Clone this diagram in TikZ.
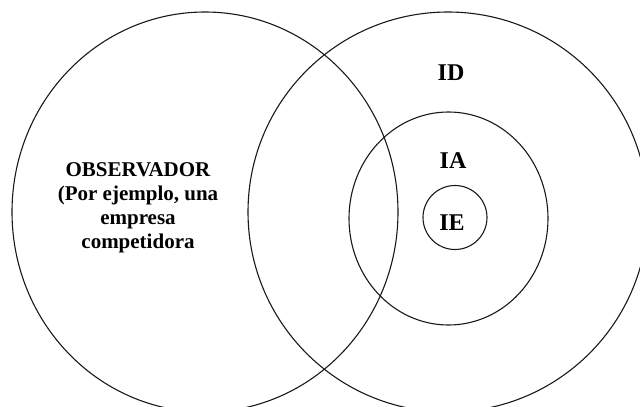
\documentclass[tikz,border=0pt]{standalone}
\usepackage{fontspec}
\setmainfont{Liberation Serif}
\tikzset{venn style/.style={draw=black!90, line width=1.1pt}}
\tikzset{set label/.style={font=\bfseries\fontsize{24}{28}\selectfont, inner sep=0pt}}
\tikzset{obs label/.style={font=\bfseries\fontsize{21}{24}\selectfont, align=center, inner sep=0pt}}

\begin{document}
\begin{tikzpicture}[x=1pt, y=-1pt]
    \useasboundingbox (0,0) rectangle (640,407);
    \begin{scope}[venn style]
        \draw (205, 212) ellipse [x radius=193, y radius=200];
        \draw (448, 212) circle [radius=200];
        \draw (448.5, 218.5) ellipse [x radius=99.5, y radius=106.5];
        \draw (455, 217.5) circle [radius=32];
    \end{scope}
    \path (138, 208) node[obs label] (obs) {OBSERVADOR\\(Por ejemplo, una\\empresa\\competidora};
    \path (451, 73) node[set label] (id) {ID};
    \path (453, 161) node[set label] (ia) {IA};
    \path (452, 223) node[set label] (ie) {IE};
\end{tikzpicture}
\end{document}
